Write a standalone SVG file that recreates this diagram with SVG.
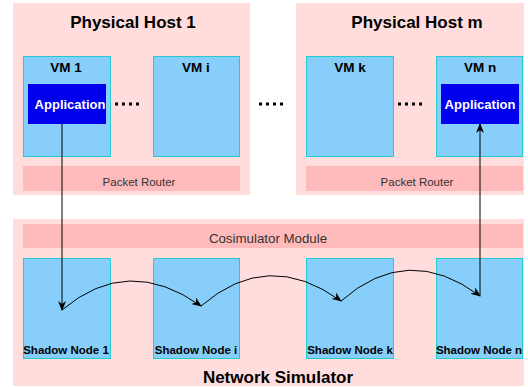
<svg xmlns="http://www.w3.org/2000/svg" width="528" height="387" viewBox="0 0 528 387">
<defs>
<style>
.host{fill:#ffdddd;}
.bar{fill:#ffbbbb;}
.vm{fill:#87cefa;stroke:#22cccc;stroke-width:1;}
.app{fill:#0000ee;}
.t{font-family:"Liberation Sans",Arial,sans-serif;}
.title{font-size:17px;font-weight:bold;fill:#000;text-anchor:middle;}
.vml{font-size:13.5px;font-weight:bold;fill:#000;text-anchor:middle;}
.appl{font-size:13px;font-weight:bold;fill:#fff;text-anchor:middle;}
.barl{font-size:11.5px;fill:#333;text-anchor:middle;}
.snl{font-size:11.5px;font-weight:bold;fill:#000;text-anchor:middle;}
.dots{stroke:#000;stroke-width:3;stroke-dasharray:3,4;}
.conn{fill:none;stroke:#000;stroke-width:1;marker-end:url(#ah);}
</style>
<marker id="ah" markerWidth="10" markerHeight="8" refX="9" refY="4" orient="auto" markerUnits="userSpaceOnUse">
<path d="M0,0 L10,4 L0,8 L3,4 Z" fill="#000"/>
</marker>
</defs>

<g id="host1">
<rect class="host" x="13" y="3" width="237" height="192"/>
<text class="t title" x="133" y="28">Physical Host 1</text>
</g>
<g id="hostm">
<rect class="host" x="296" y="3" width="228" height="192"/>
<text class="t title" x="417" y="28">Physical Host m</text>
</g>
<g id="netsim">
<rect class="host" x="13" y="219" width="511" height="167"/>
<text class="t title" x="278" y="383">Network Simulator</text>
</g>

<g id="router1">
<rect class="bar" x="23" y="166" width="217" height="25"/>
<text class="t barl" x="139" y="186">Packet Router</text>
</g>
<g id="routerm">
<rect class="bar" x="306" y="166" width="217" height="25"/>
<text class="t barl" x="417" y="186">Packet Router</text>
</g>
<g id="cosim">
<rect class="bar" x="23" y="224" width="500" height="24"/>
<text class="t barl" x="268" y="243" style="font-size:13.3px">Cosimulator Module</text>
</g>

<g id="vm1">
<rect class="vm" x="23.5" y="56.5" width="87" height="100"/>
<text class="t vml" x="66" y="72">VM 1</text>
</g>
<g id="vmi">
<rect class="vm" x="153.5" y="56.5" width="86" height="100"/>
<text class="t vml" x="196" y="72">VM i</text>
</g>
<g id="vmk">
<rect class="vm" x="306.5" y="56.5" width="87" height="100"/>
<text class="t vml" x="350" y="72">VM k</text>
</g>
<g id="vmn">
<rect class="vm" x="436.5" y="56.5" width="86" height="100"/>
<text class="t vml" x="480" y="72">VM n</text>
</g>

<g id="app1">
<rect class="app" x="28" y="84" width="78" height="40"/>
<text class="t appl" x="70" y="109">Application</text>
</g>
<g id="appn">
<rect class="app" x="441" y="84" width="78" height="40"/>
<text class="t appl" x="480" y="109">Application</text>
</g>

<g id="dots">
<line class="dots" x1="115" y1="104" x2="142" y2="104"/>
<line class="dots" x1="259" y1="104" x2="287" y2="104"/>
<line class="dots" x1="398" y1="104" x2="425" y2="104"/>
</g>

<g id="sn1">
<rect class="vm" x="23.5" y="258.5" width="87" height="100"/>
<text class="t snl" x="66" y="354">Shadow Node 1</text>
</g>
<g id="sni">
<rect class="vm" x="153.5" y="258.5" width="86" height="100"/>
<text class="t snl" x="196" y="354">Shadow Node i</text>
</g>
<g id="snk">
<rect class="vm" x="306.5" y="258.5" width="87" height="100"/>
<text class="t snl" x="350" y="354">Shadow Node k</text>
</g>
<g id="snn">
<rect class="vm" x="436.5" y="258.5" width="86" height="100"/>
<text class="t snl" x="479" y="354">Shadow Node n</text>
</g>

<g id="connectors">
<path class="conn" d="M62,124 L62,310"/>
<path class="conn" d="M62,310 Q128,254 201,306"/>
<path class="conn" d="M201,306 Q268,248 341,301"/>
<path class="conn" d="M341,301 Q408,242 480,296"/>
<path class="conn" d="M480,296 L480,124"/>
</g>
</svg>
